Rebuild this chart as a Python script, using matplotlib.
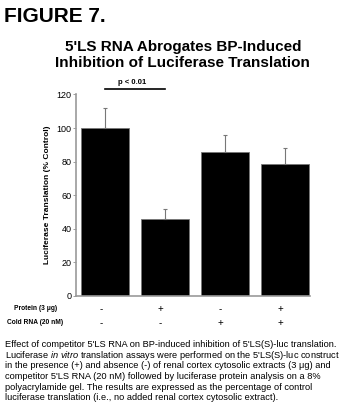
import numpy as np
import matplotlib
matplotlib.use("Agg")
import matplotlib.pyplot as plt

plt.rcParams['font.family'] = ['Liberation Sans', 'DejaVu Sans']
plt.rcParams['mathtext.fontset'] = 'custom'
plt.rcParams['mathtext.rm'] = 'Liberation Sans'
plt.rcParams['mathtext.it'] = 'Liberation Sans:italic'

#Data
values = [100, 46, 86, 78.5]
errors = [12, 5.5, 10, 9.5]
protein = ['-', '+', '-', '+']
cold_rna = ['-', '-', '+', '+']
yticks = [0, 20, 40, 60, 80, 100, 120]

fig = plt.figure(figsize=(3.55, 4.16), dpi=100)
ax = fig.add_axes([0.214, 0.2885, 0.659, 0.4845])

x = np.arange(len(values))
ax.bar(x, values, width=0.8, color='black', edgecolor='#777777', linewidth=0.6)
ax.errorbar(x, values, yerr=[np.zeros(len(errors)), errors], fmt='none',
            ecolor='#777777', elinewidth=0.8, capsize=1.5, capthick=0.8)

ax.set_xlim(-0.483, 3.42)
ax.set_ylim(0, 120)
ax.set_yticks(yticks)
ax.set_xticks([])
ax.tick_params(axis='y', labelsize=6.5, length=2, width=0.5, color='#777777', pad=1)
for s in ['top', 'right']:
    ax.spines[s].set_visible(False)
ax.spines['left'].set_color('#999999')
ax.spines['bottom'].set_color('#999999')
ax.spines['left'].set_linewidth(1.2)
ax.spines['bottom'].set_linewidth(1.2)
ax.set_ylabel('Luciferase Translation (% Control)', fontsize=6, fontweight='bold', labelpad=4)

#significance bar
ax.plot([0, 1], [123, 123], color='black', lw=1.2, clip_on=False)
ax.text(0.45, 125, 'p < 0.01', ha='center', va='bottom', fontsize=5.5, fontweight='bold')

#condition table under the bars
for i in range(len(values)):
    ax.text(x[i] - 0.07, -0.065, protein[i], transform=ax.get_xaxis_transform(),
            ha='center', va='center', fontsize=7)
    ax.text(x[i] - 0.07, -0.135, cold_rna[i], transform=ax.get_xaxis_transform(),
            ha='center', va='center', fontsize=7)
fig.text(0.16, 1 - 309 / 416, 'Protein (3 μg)', ha='right', va='center', fontsize=4.8, fontweight='bold')
fig.text(0.177, 1 - 323 / 416, 'Cold RNA (20 nM)', ha='right', va='center', fontsize=4.8, fontweight='bold')

#titles
fig.text(0.012, 1 - 16 / 416, 'FIGURE 7.', ha='left', va='center', fontsize=15, fontweight='bold')
fig.text(0.515, 1 - 55 / 416, "5'LS RNA Abrogates BP-Induced\nInhibition of Luciferase Translation",
         ha='center', va='center', fontsize=11, fontweight='bold', linespacing=1.1)

#caption, one line at a time so the spacing stays even
caption = ["Effect of competitor 5'LS RNA on BP-induced inhibition of 5'LS(S)-luc translation.",
           "Luciferase $\\it{in\\ vitro}$ translation assays were performed on the 5'LS(S)-luc construct",
           "in the presence (+) and absence (-) of renal cortex cytosolic extracts (3 μg) and",
           "competitor 5'LS RNA (20 nM) followed by luciferase protein analysis on a 8%",
           "polyacrylamide gel. The results are expressed as the percentage of control",
           "luciferase translation (i.e., no added renal cortex cytosolic extract)."]
for i, line in enumerate(caption):
    fig.text(0.014, 1 - (347 + 10.7 * i) / 416, line, ha='left', va='baseline', fontsize=6.7)

fig.savefig('out.png', dpi=100)
